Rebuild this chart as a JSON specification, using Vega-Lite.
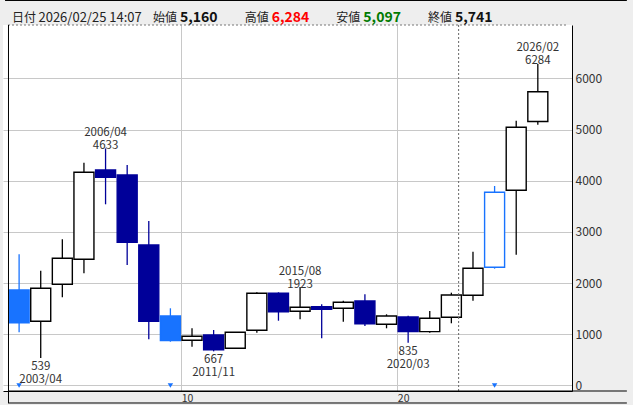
{
  "$schema": "https://vega.github.io/schema/vega-lite/v6.json",
  "width": 569,
  "height": 366,
  "autosize": {"type": "none"},
  "padding": {"left": 3, "top": 25, "right": 61, "bottom": 14},
  "background": "#eeeeee",
  "view": {"fill": "#ffffff", "stroke": null},
  "config": {"font": "Noto Sans CJK JP"},
  "datasets": {
    "candles": [
      {"year": 2002, "open": 1866, "high": 2564, "low": 1040, "close": 1227, "signal": 1},
      {"year": 2003, "open": 1255, "high": 2243, "low": 539, "close": 1900, "signal": 0},
      {"year": 2004, "open": 1978, "high": 2857, "low": 1724, "close": 2486, "signal": 0},
      {"year": 2005, "open": 2466, "high": 4354, "low": 2193, "close": 4166, "signal": 0},
      {"year": 2006, "open": 4212, "high": 4633, "low": 3541, "close": 4069, "signal": 0},
      {"year": 2007, "open": 4114, "high": 4309, "low": 2355, "close": 2798, "signal": 0},
      {"year": 2008, "open": 2746, "high": 3215, "low": 903, "close": 1255, "signal": 0},
      {"year": 2009, "open": 1358, "high": 1509, "low": 856, "close": 876, "signal": 1},
      {"year": 2010, "open": 883, "high": 1118, "low": 758, "close": 961, "signal": 0},
      {"year": 2011, "open": 987, "high": 1085, "low": 667, "close": 700, "signal": 0},
      {"year": 2012, "open": 727, "high": 1045, "low": 722, "close": 1041, "signal": 0},
      {"year": 2013, "open": 1079, "high": 1821, "low": 1032, "close": 1802, "signal": 0},
      {"year": 2014, "open": 1802, "high": 1821, "low": 1266, "close": 1442, "signal": 0},
      {"year": 2015, "open": 1450, "high": 1923, "low": 1294, "close": 1528, "signal": 0},
      {"year": 2016, "open": 1540, "high": 1587, "low": 922, "close": 1489, "signal": 0},
      {"year": 2017, "open": 1509, "high": 1657, "low": 1247, "close": 1626, "signal": 0},
      {"year": 2018, "open": 1651, "high": 1782, "low": 1163, "close": 1208, "signal": 0},
      {"year": 2019, "open": 1196, "high": 1391, "low": 1118, "close": 1358, "signal": 0},
      {"year": 2020, "open": 1339, "high": 1364, "low": 835, "close": 1052, "signal": 0},
      {"year": 2021, "open": 1052, "high": 1456, "low": 1032, "close": 1313, "signal": 0},
      {"year": 2022, "open": 1333, "high": 1814, "low": 1216, "close": 1770, "signal": 0},
      {"year": 2023, "open": 1763, "high": 2615, "low": 1657, "close": 2290, "signal": 0},
      {"year": 2024, "open": 2310, "high": 3899, "low": 2283, "close": 3776, "signal": 1},
      {"year": 2025, "open": 3815, "high": 5175, "low": 2556, "close": 5046, "signal": 0},
      {"year": 2026, "open": 5160, "high": 6284, "low": 5097, "close": 5741, "signal": 0}
    ],
    "annotations": [
      {"year": 2003, "price": 539, "side": "low", "label": "539\n2003/04"},
      {"year": 2006, "price": 4633, "side": "high", "label": "2006/04\n4633"},
      {"year": 2011, "price": 667, "side": "low", "label": "667\n2011/11"},
      {"year": 2015, "price": 1923, "side": "high", "label": "2015/08\n1923"},
      {"year": 2020, "price": 835, "side": "low", "label": "835\n2020/03"},
      {"year": 2026, "price": 6284, "side": "high", "label": "2026/02\n6284"}
    ],
    "header": [
      {"item": "始値", "value": "5,160", "tone": "plain"},
      {"item": "高値", "value": "6,284", "tone": "high"},
      {"item": "安値", "value": "5,097", "tone": "low"},
      {"item": "終値", "value": "5,741", "tone": "plain"}
    ]
  },
  "layer": [
    {
      "layer": [
        {
          "data": {"name": "candles"},
          "mark": {"type": "rule", "strokeWidth": 1.3},
          "encoding": {
            "x": {
              "field": "year", "type": "quantitative",
              "scale": {"domain": [2001.486, 2027.35], "nice": false, "zero": false},
              "axis": {
                "values": [2009.5, 2019.5],
                "labelExpr": "format(datum.value - 1999.5, 'd')",
                "grid": true, "gridColor": "#c8c8c8", "gridWidth": 1,
                "ticks": false, "domain": true, "domainColor": "#000000",
                "labelAlign": "left", "labelDx": 1, "labelFontSize": 10.5,
                "labelColor": "#333333", "labelPadding": 2, "labelFlush": false,
                "labelOverlap": false, "title": null
              }
            },
            "y": {
              "field": "low", "type": "quantitative",
              "scale": {"domain": [-107.5, 7045], "nice": false, "zero": false},
              "axis": {
                "orient": "right",
                "values": [0, 1000, 2000, 3000, 4000, 5000, 6000],
                "format": "d",
                "grid": true, "gridColor": "#c8c8c8", "gridWidth": 1,
                "ticks": false, "domain": true, "domainColor": "#000000",
                "labelFontSize": 12, "labelColor": "#333333", "labelPadding": 3,
                "labelAlign": "left", "labelBaseline": "middle", "labelFlush": false,
                "title": null
              }
            },
            "y2": {"field": "high"},
            "stroke": {
              "condition": [
                {"test": "datum.signal == 1", "value": "#1873ff"},
                {"test": "datum.close >= datum.open", "value": "#000000"}
              ],
              "value": "#000099"
            }
          }
        },
        {
          "data": {"name": "candles"},
          "mark": {"type": "bar", "width": 20, "strokeWidth": 1.4},
          "encoding": {
            "x": {"field": "year", "type": "quantitative"},
            "y": {"field": "open", "type": "quantitative"},
            "y2": {"field": "close"},
            "fill": {
              "condition": [
                {"test": "datum.close >= datum.open", "value": "#ffffff"},
                {"test": "datum.signal == 1", "value": "#1873ff"}
              ],
              "value": "#000099"
            },
            "stroke": {
              "condition": [
                {"test": "datum.signal == 1", "value": "#1873ff"},
                {"test": "datum.close >= datum.open", "value": "#000000"}
              ],
              "value": "#000099"
            }
          }
        },
        {
          "data": {"name": "candles"},
          "transform": [{"filter": "datum.signal == 1"}],
          "mark": {"type": "point", "shape": "triangle-down", "filled": true, "size": 30, "color": "#1873ff", "opacity": 1},
          "encoding": {
            "x": {"field": "year", "type": "quantitative"},
            "y": {"datum": 0}
          }
        },
        {
          "data": {"name": "annotations"},
          "transform": [{"filter": "datum.side == 'high'"}],
          "mark": {"type": "text", "align": "center", "baseline": "bottom", "fontSize": 11.5, "lineHeight": 13, "lineBreak": "\n", "dy": -10.5, "color": "#333333"},
          "encoding": {
            "x": {"field": "year", "type": "quantitative"},
            "y": {"field": "price", "type": "quantitative"},
            "text": {"field": "label"}
          }
        },
        {
          "data": {"name": "annotations"},
          "transform": [{"filter": "datum.side == 'low'"}],
          "mark": {"type": "text", "align": "center", "baseline": "top", "fontSize": 11.5, "lineHeight": 13, "lineBreak": "\n", "dy": 3, "color": "#333333"},
          "encoding": {
            "x": {"field": "year", "type": "quantitative"},
            "y": {"field": "price", "type": "quantitative"},
            "text": {"field": "label"}
          }
        },
        {
          "data": {"values": [{}]},
          "mark": {"type": "rule", "color": "#666666", "strokeDash": [2, 2], "strokeWidth": 1},
          "encoding": {"x": {"datum": 2022.336}}
        },
        {
          "data": {"values": [{}]},
          "mark": {"type": "rule", "color": "#777777", "strokeDash": [2, 2], "strokeWidth": 1},
          "encoding": {"x": {"datum": 2001.486}, "x2": {"datum": 2027.35}, "y": {"datum": 7045}}
        },
        {
          "data": {"values": [{}]},
          "mark": {"type": "rule", "color": "#000000", "strokeWidth": 1},
          "encoding": {"x": {"datum": 2001.35}, "x2": {"datum": 2030.12}, "y": {"datum": 7524}}
        },
        {
          "data": {"values": [{}]},
          "mark": {"type": "rule", "color": "#000000", "strokeWidth": 1},
          "encoding": {"x": {"datum": 2001.509}, "y": {"datum": -342}, "y2": {"datum": 7045}}
        },
        {
          "data": {"values": [{}]},
          "mark": {"type": "rule", "color": "#000000", "strokeWidth": 1},
          "encoding": {"x": {"datum": 2001.486}, "x2": {"datum": 2030.12}, "y": {"datum": -107.5}}
        },
        {
          "data": {"values": [{}]},
          "mark": {"type": "rule", "color": "#000000", "strokeWidth": 1},
          "encoding": {"x": {"datum": 2001.486}, "x2": {"datum": 2030.12}, "y": {"datum": -342}}
        },
        {
          "data": {"values": [{}]},
          "mark": {"type": "text", "align": "left", "baseline": "middle", "fontSize": 12, "color": "#222222"},
          "encoding": {"x": {"datum": 2001.668}, "y": {"datum": 7182}, "text": {"value": "日付"}}
        },
        {
          "data": {"values": [{}]},
          "mark": {"type": "text", "align": "left", "baseline": "middle", "fontSize": 13, "color": "#222222"},
          "encoding": {"x": {"datum": 2002.896}, "y": {"datum": 7182}, "text": {"value": "2026/02/25 14:07"}}
        }
      ]
    },
    {
      "data": {"name": "header"},
      "layer": [
        {
          "mark": {"type": "text", "align": "left", "baseline": "middle", "fontSize": 12, "dx": 3, "color": "#222222"},
          "encoding": {
            "x": {"field": "item", "type": "nominal", "scale": {"type": "point", "domain": ["_l", "始値", "高値", "安値", "終値", "_r"], "padding": 0.6035}, "axis": null},
            "y": {"datum": 7182},
            "text": {"field": "item"}
          }
        },
        {
          "mark": {"type": "text", "align": "left", "baseline": "middle", "fontSize": 14, "fontWeight": "bold", "dx": 30},
          "encoding": {
            "x": {"field": "item", "type": "nominal", "scale": {"type": "point", "domain": ["_l", "始値", "高値", "安値", "終値", "_r"], "padding": 0.6035}, "axis": null},
            "y": {"datum": 7182},
            "text": {"field": "value"},
            "color": {"field": "tone", "type": "nominal", "scale": {"domain": ["plain", "high", "low"], "range": ["#111111", "#ff0000", "#007a00"]}, "legend": null}
          }
        }
      ]
    }
  ],
  "resolve": {"scale": {"x": "independent"}, "axis": {"x": "independent"}}
}
